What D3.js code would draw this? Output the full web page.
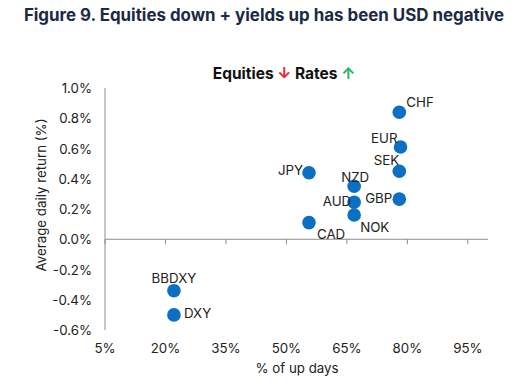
<!DOCTYPE html>
<html lang="en">
<head>
<meta charset="UTF-8">
<title>Figure 9</title>
<script src="https://d3js.org/d3.v7.min.js"></script>
<style>
  body, html { margin: 0; padding: 0; background: #fff; }
  svg { display: block; font-family: Inter, "Noto Sans", sans-serif; }
</style>
</head>
<body>
<script>
'use strict'

// data
const currencies = ['CHF', 'EUR', 'SEK', 'GBP', 'JPY', 'NZD', 'AUD', 'NOK', 'CAD', 'BBDXY', 'DXY']
const upDays = [78, 78.3, 78, 78, 55.6, 66.8, 66.8, 66.8, 55.6, 22.1, 22.1]
const avgReturn = [0.84, 0.61, 0.45, 0.265, 0.44, 0.35, 0.245, 0.16, 0.11, -0.34, -0.50]
const xTicks = [5, 20, 35, 50, 65, 80, 95]
const yTicks = [1.0, 0.8, 0.6, 0.4, 0.2, 0.0, -0.2, -0.4, -0.6]

// label offsets [dx, dy, anchor]
const labelPos = {
  CHF: [7, -10, 'start'], EUR: [-3, -9, 'end'], SEK: [0, -11, 'end'], GBP: [-7, -1, 'end'],
  JPY: [-6, -3, 'end'], NZD: [-13, -9.5, 'start'], AUD: [-3, -1, 'end'], NOK: [6, 12, 'start'],
  CAD: [8, 11, 'start'], BBDXY: [0, -13, 'middle'], DXY: [10, -2, 'start']
}

const W = 514, H = 385
const FS = 13.3
const svg = d3.select('body').append('svg').attr('width', W).attr('height', H)

const x = d3.scaleLinear().domain([5, 100]).range([105, 488])
const y = d3.scaleLinear().domain([-0.6, 1.0]).range([330, 88])

// titles
svg.append('text')
  .attr('x', 264).attr('y', 21)
  .attr('text-anchor', 'middle')
  .attr('font-size', 16.9).attr('font-weight', 700)
  .attr('fill', '#1b2a44')
  .text('Figure 9. Equities down + yields up has been USD negative')

const sub = svg.append('text')
  .attr('x', 284).attr('y', 79)
  .attr('text-anchor', 'middle')
  .attr('font-size', 15.5).attr('font-weight', 700)
  .attr('fill', '#111')
sub.append('tspan').text('Equities ')
sub.append('tspan').attr('fill', '#e8282b').text('↓')
sub.append('tspan').text(' Rates ')
sub.append('tspan').attr('fill', '#1fb268').text('↑')

// y axis
svg.append('line')
  .attr('x1', x(5)).attr('x2', x(5))
  .attr('y1', y(1.0)).attr('y2', y(-0.6))
  .attr('stroke', '#8c8c8c')

svg.selectAll('.ylab')
  .data(yTicks)
  .enter()
  .append('text')
  .attr('class', 'ylab')
  .attr('x', x(5) - 13)
  .attr('y', d => y(d) + 5)
  .attr('text-anchor', 'end')
  .attr('font-size', FS)
  .attr('fill', '#222')
  .text(d => d3.format('.1f')(d).replace('−', '-') + '%')

// x axis at zero
svg.append('line')
  .attr('x1', x(5)).attr('x2', x(100))
  .attr('y1', y(0)).attr('y2', y(0))
  .attr('stroke', '#8c8c8c')

svg.selectAll('.xtick')
  .data(xTicks)
  .enter()
  .append('line')
  .attr('x1', d => x(d)).attr('x2', d => x(d))
  .attr('y1', y(0)).attr('y2', y(0) + 5)
  .attr('stroke', '#8c8c8c')

svg.selectAll('.xlab')
  .data(xTicks)
  .enter()
  .append('text')
  .attr('x', d => x(d))
  .attr('y', 353)
  .attr('text-anchor', 'middle')
  .attr('font-size', FS)
  .attr('fill', '#222')
  .text(d => d + '%')

svg.append('text')
  .attr('x', 297).attr('y', 373)
  .attr('text-anchor', 'middle')
  .attr('font-size', FS)
  .attr('fill', '#222')
  .text('% of up days')

svg.append('text')
  .attr('transform', 'translate(46, 195) rotate(-90)')
  .attr('text-anchor', 'middle')
  .attr('font-size', FS)
  .attr('fill', '#222')
  .text('Average daily return (%)')

// points
const pts = currencies.map((c, i) => ({ name: c, x: upDays[i], y: avgReturn[i] }))

svg.selectAll('circle')
  .data(pts)
  .enter()
  .append('circle')
  .attr('cx', d => x(d.x))
  .attr('cy', d => y(d.y))
  .attr('r', 6.8)
  .attr('fill', '#0b6fc4')

svg.selectAll('.plab')
  .data(pts)
  .enter()
  .append('text')
  .attr('x', d => x(d.x) + labelPos[d.name][0])
  .attr('y', d => y(d.y) + labelPos[d.name][1] + 5)
  .attr('text-anchor', d => labelPos[d.name][2])
  .attr('font-size', FS)
  .attr('fill', '#222')
  .text(d => d.name)
</script>
</body>
</html>
